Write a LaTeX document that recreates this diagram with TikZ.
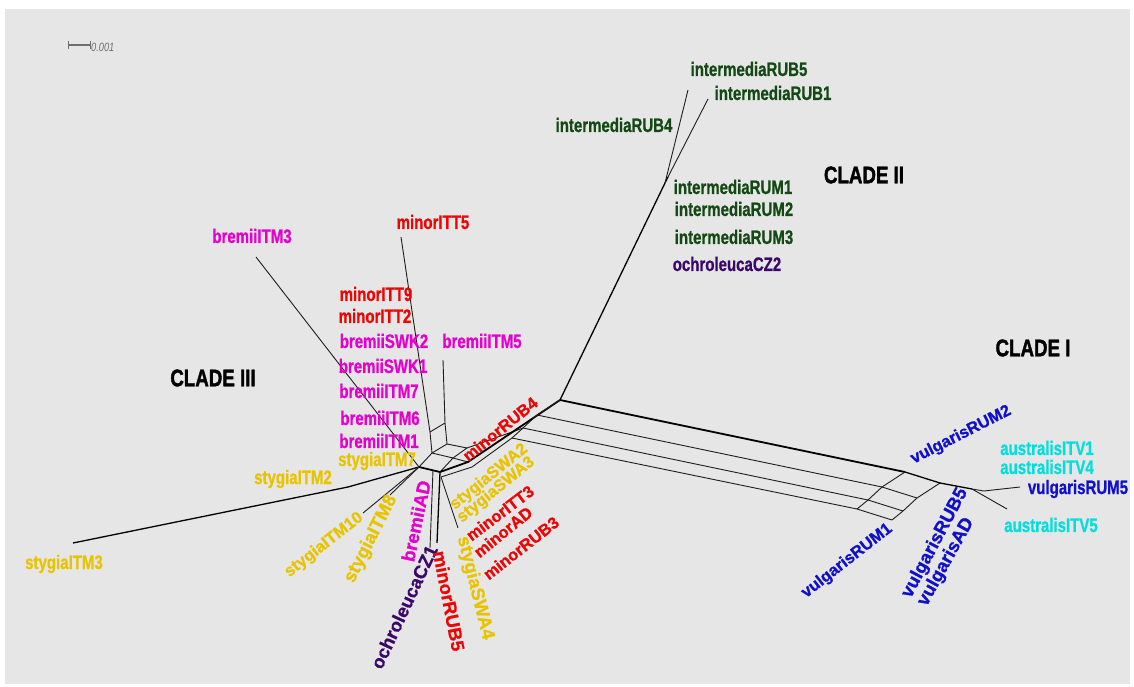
\documentclass[tikz,border=0pt]{standalone}
\usepackage{graphicx}
\usepackage{fontspec}
\setmainfont{Liberation Sans}[BoldFeatures={FakeBold=0.9}]
\newfontfamily\cladefont{Liberation Sans}[BoldFeatures={FakeBold=1.8}]
\definecolor{bg}{RGB}{230,230,230}
\definecolor{ig}{RGB}{20,72,20}
\definecolor{op}{RGB}{58,8,105}
\definecolor{bm}{RGB}{228,0,205}
\definecolor{mr}{RGB}{235,5,5}
\definecolor{sy}{RGB}{232,195,0}
\definecolor{vb}{RGB}{15,15,205}
\definecolor{ac}{RGB}{0,222,222}
\definecolor{ln}{RGB}{30,30,30}
\definecolor{sbar}{RGB}{110,110,110}
\newcommand{\sq}[1]{\scalebox{0.77}[1]{#1}}
\tikzset{
  lab/.style={inner sep=0pt, font=\fontsize{19.5}{20}\selectfont\bfseries},
  rlab/.style={inner sep=0pt, font=\fontsize{16.5}{18}\selectfont\bfseries},
  rlabs/.style={inner sep=0pt, font=\fontsize{18.5}{20}\selectfont\bfseries},
  clade/.style={inner sep=0pt, font=\fontsize{24}{26}\selectfont\cladefont\bfseries, text=black},
  br/.style={draw=ln, line width=0.9pt},
  brthick/.style={draw=black, line width=1.8pt},
  brmid/.style={draw=black, line width=1.3pt},
}
\begin{document}
\begin{tikzpicture}[x=1pt,y=-1pt]
\useasboundingbox (0,0) rectangle (1134,687);
\fill[white] (0,0) rectangle (1134,687);
\fill[bg] (5,9) rectangle (1130,684);

% scale bar
\draw[sbar, line width=1.2pt] (68,45) -- (90,45);
\draw[sbar, line width=1pt] (68,41) -- (68,49);
\draw[sbar, line width=1pt] (90,41) -- (90,49);
\node[inner sep=0pt, anchor=west, text=sbar, font=\fontsize{12}{13}\selectfont\itshape] (sblab) at (91,47) {\sq{0.001}};

% ---------- coordinates ----------
\coordinate (P) at (419,467);
\coordinate (H1) at (440,472);
\coordinate (U1) at (432,453);
\coordinate (V1) at (453,458);
\coordinate (M1) at (430,432);
\coordinate (M2) at (445,423);
\coordinate (Q) at (447,444);
\coordinate (Q2) at (467,448);
\coordinate (K1) at (468,462);
\coordinate (K2) at (472,467);
\coordinate (W1) at (441,477);
\coordinate (O1) at (433,470);
\coordinate (A1) at (560,400);
\coordinate (A2) at (537,415);
\coordinate (A3) at (523,428);
\coordinate (A4) at (512,438);
\coordinate (B1) at (905,472);
\coordinate (B2) at (882,487);
\coordinate (B3) at (868,500);
\coordinate (B4) at (857,509);
\coordinate (C1) at (940,483);
\coordinate (C2) at (917,498);
\coordinate (C3) at (903,511);
\coordinate (C4) at (892,520);
\coordinate (D) at (972,489);
\coordinate (E1) at (984,491);
\coordinate (lRUM5) at (1020,487);
\coordinate (lITV5) at (1007,509);
\coordinate (N2) at (665,183);
\coordinate (N2x) at (668,177);
\coordinate (lRUB5i) at (688,90);
\coordinate (lRUB1i) at (708,99);
\coordinate (lTM3b) at (256,257);
\coordinate (lTT5) at (401,237);
\coordinate (lTM5) at (443,360);
\coordinate (S2) at (348,487);
\coordinate (lTM3s) at (73,543);
\coordinate (lTM10) at (363,513);
\coordinate (lTM8) at (390,495);
\coordinate (lCZ1) at (430,548);
\coordinate (lRUB5m) at (437,543);
\coordinate (lSWA4) at (458,528);

% ---------- edges ----------
% clade III side
\draw[brmid] (lTM3s) -- (S2) -- (P);
\draw[br] (lTM10) -- (P);
\draw[br] (lTM8) -- (P);
\draw[br] (lTM3b) -- (P);
\draw[br] (lTT5) -- (M1) -- (U1);
\draw[br] (lTM5) -- (M2) -- (Q);
\draw[br] (M1) -- (M2);
\draw[br] (P) -- (U1) -- (V1) -- (H1);
\draw[br] (U1) -- (Q) -- (Q2) -- (V1);
\draw[br] (V1) -- (K1);
\draw[br] (Q2) -- (A3);
\draw[brthick] (P) -- (H1);
\draw[br] (O1) -- (lCZ1);
\draw[brmid] (H1) -- (lRUB5m);
\draw[br] (W1) -- (lSWA4);
\draw[br] (W1) -- (K2) -- (A4);
% band to the central node
\draw[brthick] (H1) -- (K1) -- (A1);
\draw[br] (A1) -- (A2) -- (A3) -- (A4);
% clade II
\draw[brmid] (A1) -- (N2) -- (N2x);
\draw[br] (N2) -- (lRUB5i);
\draw[br] (N2x) -- (lRUB1i);
% clade I
\draw[brthick] (A1) -- (B1);
\draw[br] (A2) -- (B2);
\draw[br] (A3) -- (B3);
\draw[br] (A4) -- (B4);
\draw[br] (B1) -- (B2) -- (B3) -- (B4);
\draw[br] (C1) -- (C2) -- (C3) -- (C4);
\draw[brmid] (B1) -- (C1) -- (D);
\draw[br] (B2) -- (C2);
\draw[br] (B3) -- (C3);
\draw[br] (B4) -- (C4);
\draw[br] (D) -- (E1) -- (lRUM5);
\draw[br] (D) -- (lITV5);

% ---------- labels ----------
\node[clade] (cII) at (864,175) {\scalebox{0.78}[1]{CLADE II}};
\node[clade] (cIII) at (213,378) {\scalebox{0.78}[1]{CLADE III}};
\node[clade] (cI) at (1033,348) {\scalebox{0.78}[1]{CLADE I}};

\node[lab, text=ig] (tRUB5i) at (749,69) {\sq{intermediaRUB5}};
\node[lab, text=ig] (tRUB1i) at (773,93) {\sq{intermediaRUB1}};
\node[lab, text=ig] (tRUB4i) at (614,125) {\sq{intermediaRUB4}};
\node[lab, text=ig] (tRUM1i) at (733,187) {\sq{intermediaRUM1}};
\node[lab, text=ig] (tRUM2i) at (734,209) {\sq{intermediaRUM2}};
\node[lab, text=ig] (tRUM3i) at (734,237) {\sq{intermediaRUM3}};
\node[lab, text=op] (tCZ2) at (727,264) {\sq{ochroleucaCZ2}};

\node[lab, text=bm] (tTM3b) at (252,236) {\sq{bremiiITM3}};
\node[lab, text=mr] (tTT5) at (433,222) {\sq{minorITT5}};
\node[lab, text=mr] (tTT9) at (376,294) {\sq{minorITT9}};
\node[lab, text=mr] (tTT2) at (375,316) {\sq{minorITT2}};
\node[lab, text=bm] (tSWK2) at (384,341) {\sq{bremiiSWK2}};
\node[lab, text=bm] (tTM5) at (482,341) {\sq{bremiiITM5}};
\node[lab, text=bm] (tSWK1) at (383,366) {\sq{bremiiSWK1}};
\node[lab, text=bm] (tTM7b) at (379,391) {\sq{bremiiITM7}};
\node[lab, text=bm] (tTM6b) at (380,418) {\sq{bremiiITM6}};
\node[lab, text=bm] (tTM1b) at (379,441) {\sq{bremiiITM1}};
\node[lab, text=sy] (tTM7s) at (377,461) {\sq{stygiaITM7}};
\node[lab, text=sy] (tTM2s) at (293,479) {\sq{stygiaITM2}};
\node[lab, text=sy] (tTM3s) at (64,564) {\sq{stygiaITM3}};
\node[rlab, text=sy, rotate=38] (tTM10) at (324,545) {stygiaITM10};
\node[rlabs, text=sy, rotate=63] (tTM8) at (371,539) {stygiaITM8};
\node[rlabs, text=bm, rotate=78] (tADb) at (416,521) {bremiiAD};
\node[rlabs, text=op, rotate=65] (tCZ1) at (404,607) {ochroleucaCZ1};
\node[rlabs, text=mr, rotate=-79] (tRUB5m) at (449,601) {minorRUB5};
\node[rlabs, text=sy, rotate=-76] (tSWA4) at (475,588) {stygiaSWA4};
\node[rlab, text=mr, rotate=39] (tRUB4m) at (500,429) {minorRUB4};
\node[rlab, text=sy, rotate=39] (tSWA2) at (489,477) {stygiaSWA2};
\node[rlab, text=sy, rotate=39] (tSWA3) at (496,490) {stygiaSWA3};
\node[rlab, text=mr, rotate=37] (tTT3) at (500,513) {minorITT3};
\node[rlab, text=mr, rotate=39] (tADm) at (503,532) {minorAD};
\node[rlab, text=mr, rotate=38] (tRUB3m) at (521,548) {minorRUB3};

\node[rlab, text=vb, rotate=27] (tRUM2v) at (961,435) {vulgarisRUM2};
\node[lab, text=ac] (tITV1) at (1047,448) {\sq{australisITV1}};
\node[lab, text=ac] (tITV4) at (1047,467) {\sq{australisITV4}};
\node[lab, text=vb] (tRUM5v) at (1078,489) {\sq{vulgarisRUM5}};
\node[lab, text=ac] (tITV5) at (1051,525) {\sq{australisITV5}};
\node[rlab, text=vb, rotate=38] (tRUM1v) at (847,561) {vulgarisRUM1};
\node[rlabs, text=vb, rotate=62] (tRUB5v) at (935,543) {vulgarisRUB5};
\node[rlabs, text=vb, rotate=61] (tADv) at (946,562) {vulgarisAD};
\end{tikzpicture}
\end{document}
